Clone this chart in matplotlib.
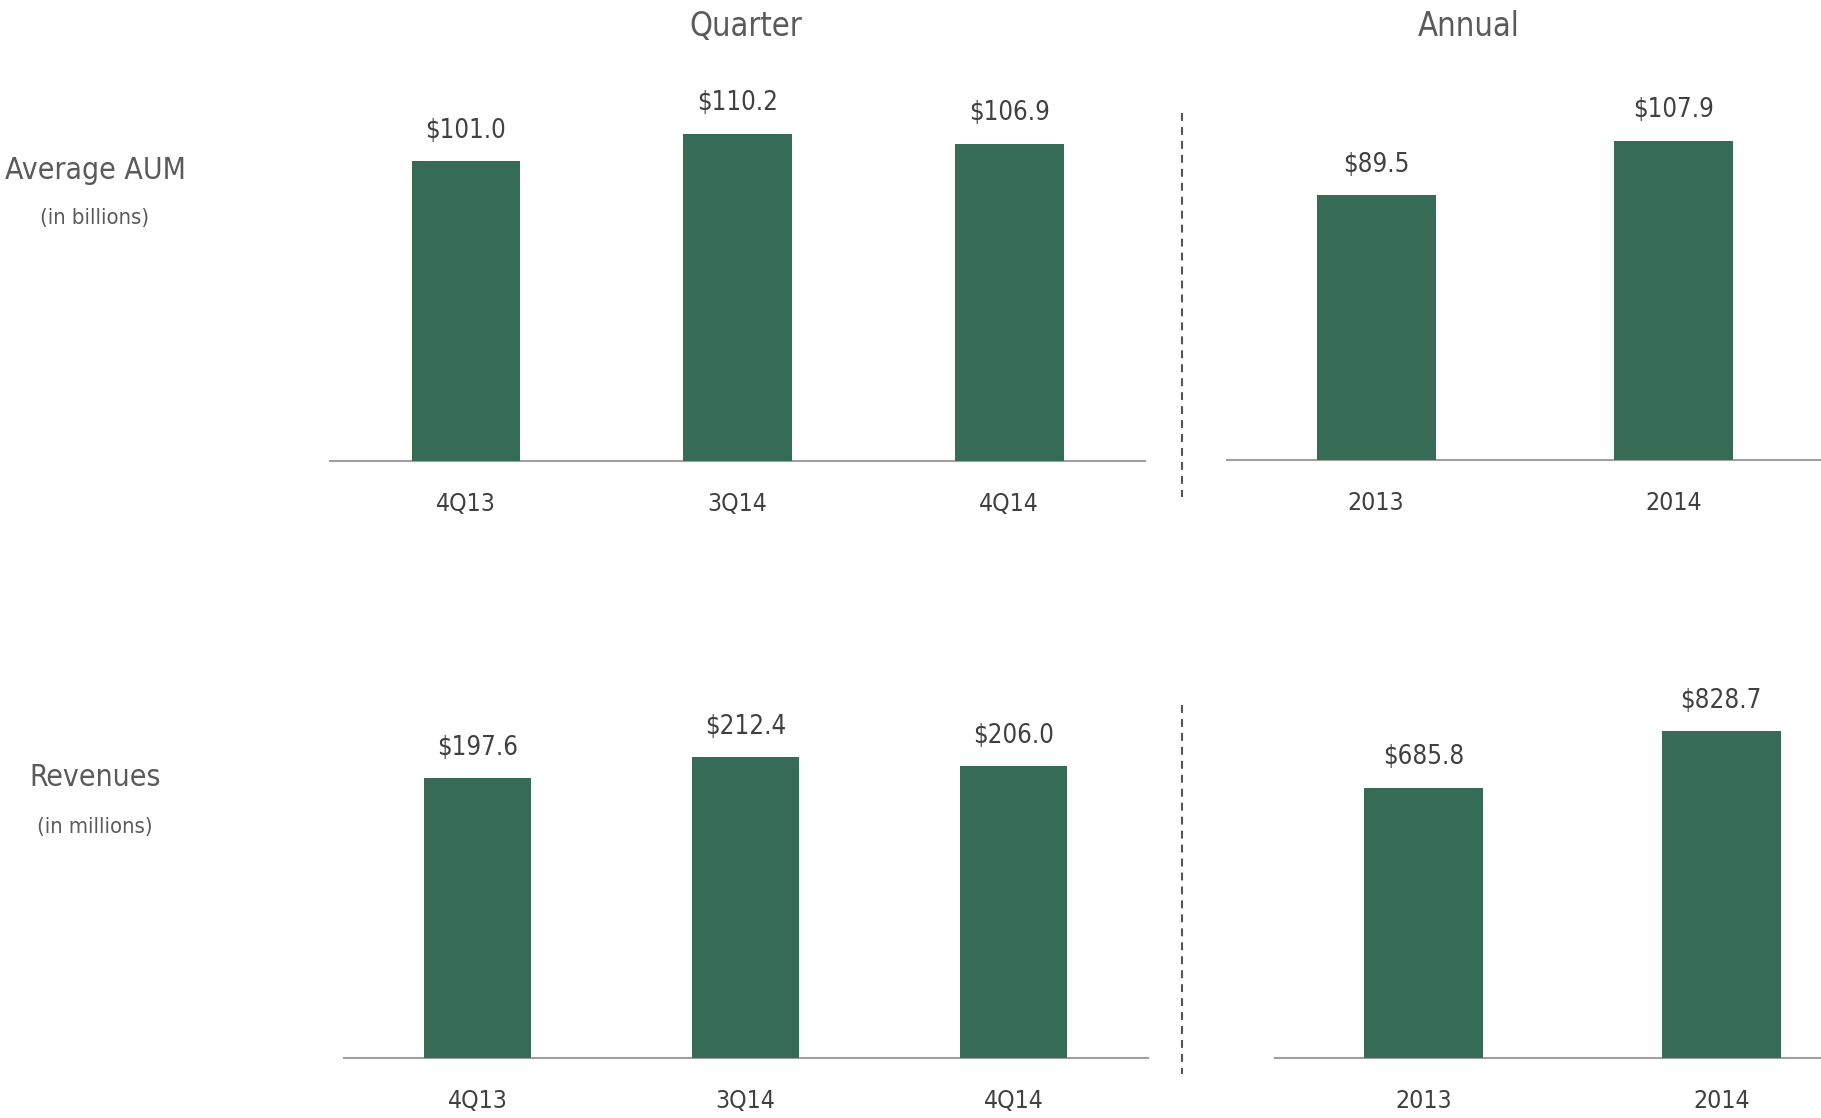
import matplotlib
matplotlib.use('Agg')
import matplotlib.pyplot as plt
from matplotlib import font_manager

# --- data ---
quarters = ['4Q13', '3Q14', '4Q14']
years = ['2013', '2014']
aum_quarter = [101.0, 110.2, 106.9]
aum_annual = [89.5, 107.9]
rev_quarter = [197.6, 212.4, 206.0]
rev_annual = [685.8, 828.7]

# look for a narrow/condensed face; the original uses a condensed sans
narrow = [f for f in font_manager.fontManager.ttflist
          if ('Narrow' in f.name or 'Condensed' in f.name
              or f.stretch in ('condensed', 'semi-condensed', 'extra-condensed', 300))
          and f.style == 'normal' and f.weight in (300, 400, 'normal', 'light', 'regular')]
if narrow:
    FP = dict(fontproperties=font_manager.FontProperties(fname=narrow[0].fname))
    K = 1.0
else:
    FP = dict(family='DejaVu Sans')
    K = 0.86


def fp(size):
    d = dict(FP)
    if 'fontproperties' in d:
        p = d['fontproperties'].copy()
        p.set_size(size * K)
        return {'fontproperties': p}
    d['fontsize'] = size * K
    return d


GREEN = '#366b55'
TITLE_GREY = '#5a5a5a'
TEXT_DARK = '#404040'
AXIS_GREY = '#a0a0a0'

W, H = 1821, 1118
fig = plt.figure(figsize=(W / 100, H / 100), dpi=100)
fig.patch.set_facecolor('white')


def px_axes(left, right, baseline, height):
    # axes rect given in pixel coords (y from top)
    return fig.add_axes([left / W, 1 - baseline / H, (right - left) / W, height / H])


def bar_panel(ax, labels, values, ymax):
    x = list(range(len(values)))
    ax.bar(x, values, width=0.4, color=GREEN, zorder=3)
    ax.set_xlim(-0.5, len(values) - 0.5)
    ax.set_ylim(0, ymax)
    for xi, v in zip(x, values):
        ax.annotate(f'${v:.1f}', (xi, v), xytext=(0, 22), textcoords='offset points',
                    ha='center', va='center', color=TEXT_DARK, **fp(18.5))
    ax.set_xticks(x)
    ax.set_xticklabels(labels, color=TEXT_DARK, **fp(17.8))
    ax.tick_params(axis='x', length=0, pad=22)
    ax.set_yticks([])
    for s in ['top', 'right', 'left']:
        ax.spines[s].set_visible(False)
    ax.spines['bottom'].set_color(AXIS_GREY)
    ax.spines['bottom'].set_linewidth(1.5)
    ax.set_facecolor('none')


# top row: Average AUM
ax1 = px_axes(330, 1145, 461, 400.7)
bar_panel(ax1, quarters, aum_quarter, 135)
ax2 = px_axes(1227.4, 1822, 460, 399.5)
bar_panel(ax2, years, aum_annual, 135)

# bottom row: Revenues
ax3 = px_axes(343.8, 1147.5, 1058, 453)
bar_panel(ax3, quarters, rev_quarter, 320)
ax4 = px_axes(1275.3, 1869.9, 1058, 453.4)
bar_panel(ax4, years, rev_annual, 1150)

# column headers
fig.text(745.6 / W, 1 - 26 / H, 'Quarter', ha='center', va='center',
         color=TITLE_GREY, **fp(23.5))
fig.text(1469 / W, 1 - 26 / H, 'Annual', ha='center', va='center',
         color=TITLE_GREY, **fp(23.5))

# row labels
fig.text(95 / W, 1 - 171 / H, 'Average AUM', ha='center', va='center',
         color=TITLE_GREY, **fp(21.6))
fig.text(95 / W, 1 - 218 / H, '(in billions)', ha='center', va='center',
         color=TITLE_GREY, **fp(15.8))
fig.text(95 / W, 1 - 778 / H, 'Revenues', ha='center', va='center',
         color=TITLE_GREY, **fp(21.6))
fig.text(95 / W, 1 - 827 / H, '(in millions)', ha='center', va='center',
         color=TITLE_GREY, **fp(15.8))

# dashed dividers between quarter and annual
for y0, y1 in [(112.7, 497), (705, 1074)]:
    fig.add_artist(plt.Line2D([1182.3 / W, 1182.3 / W], [1 - y0 / H, 1 - y1 / H],
                              transform=fig.transFigure, color='#555555',
                              linewidth=1.5, linestyle=(0, (3.8, 2.9))))

fig.savefig('out.png', dpi=100)
